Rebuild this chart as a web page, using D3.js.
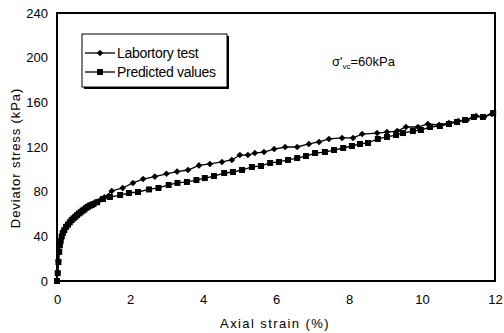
<!DOCTYPE html>
<html>
<head>
<meta charset="utf-8">
<script src="https://cdn.jsdelivr.net/npm/d3@7"></script>
<style>
  body { margin: 0; background: #fff; }
  text { font-family: "Liberation Sans", Arial, sans-serif; fill: #000; }
</style>
</head>
<body>
<div id="chart"></div>
<script>
// Datos
const xTicks = [0, 2, 4, 6, 8, 10, 12]
const yTicks = [0, 40, 80, 120, 160, 200, 240]

const labStrain = [0,0.02,0.04,0.06,0.08,0.1,0.13,0.16,0.2,0.25,0.3,0.35,0.4,0.45,0.5,0.55,0.6,0.65,0.7,0.75,0.8,0.85,0.9,0.95,1.0,1.1,1.2,1.3,
  1.5,1.8,2.08,2.36,2.68,3.0,3.29,3.59,3.89,4.19,4.52,4.79,5.01,5.23,5.42,5.67,5.95,6.25,6.58,6.9,
  7.18,7.45,7.81,8.11,8.36,8.77,9.04,9.32,9.56,9.89,10.16,10.47,10.74,10.99,11.23,11.48,11.7,11.92]
const labStress = [0,8,18,27,33,37,41,44,46,49,51,53,55,56.5,58,59.5,61,62,63.5,64.5,66,67,68,68.5,69.5,71,73,75,
  80.6,83.3,87.8,91.3,93.5,96,98,99.4,103.5,104.8,106.6,108.4,112.8,112.8,114.6,115.5,118.2,120,120,122.7,
  124.5,127.2,128.1,128.1,131.6,132.5,133.4,134.3,137.9,137.9,140.6,139.7,141.5,143.3,144.2,147.8,146.9,149.6]

const predStrain = [0,0.02,0.04,0.06,0.08,0.1,0.13,0.16,0.2,0.25,0.3,0.35,0.4,0.45,0.5,0.55,0.6,0.65,0.7,0.75,0.8,0.85,0.9,0.95,1.0,1.1,
  1.26,1.45,1.73,1.97,2.22,2.52,2.78,3.06,3.3,3.56,3.82,4.05,4.3,4.58,4.82,5.07,5.34,5.59,5.84,6.08,
  6.33,6.58,6.82,7.07,7.34,7.59,7.84,8.08,8.3,8.52,8.79,9.04,9.29,9.48,9.75,9.97,10.22,10.49,10.74,10.96,
  11.18,11.42,11.67,11.95]
const predStress = [0,7,17,26,32,36,40,43,45.5,48.5,50.5,52.5,54.5,56,57.5,59,60.5,61.5,63,64,65.5,66.5,67.5,68,69,70.5,
  73.4,75.2,77,78.8,79.7,82,83.3,86,87.8,88.7,90.4,92.2,94,96.7,97.6,99.4,102.1,103,105.7,106.6,
  108.4,110.1,111.9,114.6,115.5,117.3,119.1,120.9,122.7,123.6,127.2,129,130.7,132.5,134.3,135.2,137.9,138.8,140.6,142.4,
  144.2,146.9,146.9,150.4]

const lab = labStrain.map((d, i) => ({x: d, y: labStress[i]}))
const pred = predStrain.map((d, i) => ({x: d, y: predStress[i]}))

// Constantes:
const width = 504
const height = 333
const margins = {top: 13, bottom: 52, left: 57, right: 9}

const svg = d3.select("#chart").append("svg").attr("width", width).attr("height", height)

const x = d3.scaleLinear().domain([0, 12]).range([margins.left, width - margins.right])
const y = d3.scaleLinear().domain([0, 240]).range([height - margins.bottom, margins.top])

// Ejes (sin marcas, solo etiquetas)
const xAxis = d3.axisBottom(x).tickValues(xTicks).tickSize(0).tickPadding(14)
const yAxis = d3.axisLeft(y).tickValues(yTicks).tickSize(0).tickPadding(9)

const gx = svg.append("g").attr("transform", `translate(0,${height - margins.bottom})`).call(xAxis)
const gy = svg.append("g").attr("transform", `translate(${margins.left},0)`).call(yAxis)
svg.selectAll(".domain").remove()
svg.selectAll(".tick text").style("font-family", "Liberation Sans, Arial, sans-serif").style("font-size", "13px").attr("fill", "#000")

// Lineas
const line = d3.line().x(d => x(d.x)).y(d => y(d.y))

svg.append("path").datum(pred).attr("d", line).attr("fill", "none").attr("stroke", "#000").attr("stroke-width", 1.3)
svg.append("path").datum(lab).attr("d", line).attr("fill", "none").attr("stroke", "#000").attr("stroke-width", 1.3)

const diamond = d3.symbol().type(d3.symbolDiamond2).size(28)
const square = d3.symbol().type(d3.symbolSquare).size(36)

svg.append("g").selectAll("path").data(pred).enter().append("path")
  .attr("d", square).attr("transform", d => `translate(${x(d.x)},${y(d.y)})`).attr("fill", "#000")
svg.append("g").selectAll("path").data(lab).enter().append("path")
  .attr("d", diamond).attr("transform", d => `translate(${x(d.x)},${y(d.y)})`).attr("fill", "#000")

// Marco
svg.append("rect")
  .attr("x", margins.left).attr("y", margins.top)
  .attr("width", width - margins.left - margins.right)
  .attr("height", height - margins.top - margins.bottom)
  .attr("fill", "none").attr("stroke", "#000").attr("stroke-width", 2)

// Titulos de ejes
svg.append("text")
  .attr("x", (margins.left + width - margins.right) / 2 - 1).attr("y", 328)
  .attr("text-anchor", "middle").style("font-size", "13px").style("letter-spacing", "1.4px")
  .text("Axial strain (%)")
svg.append("text")
  .attr("transform", "translate(20,158) rotate(-90)")
  .attr("text-anchor", "middle").style("font-size", "13px").style("letter-spacing", "0.9px")
  .text("Deviator stress (kPa)")

// Leyenda
const legend = svg.append("g")
legend.append("rect").attr("x", 84).attr("y", 36).attr("width", 145).attr("height", 53).attr("fill", "#000")
legend.append("rect").attr("x", 82).attr("y", 34).attr("width", 145).attr("height", 53)
  .attr("fill", "#fff").attr("stroke", "#000").attr("stroke-width", 1)

const items = [
  {name: "Labortory test", sym: diamond, yy: 53},
  {name: "Predicted values", sym: square, yy: 72}
]
items.forEach(it => {
  legend.append("line").attr("x1", 85).attr("x2", 115).attr("y1", it.yy).attr("y2", it.yy)
    .attr("stroke", "#000").attr("stroke-width", 1.3)
  legend.append("path").attr("d", it.sym).attr("transform", `translate(100,${it.yy})`).attr("fill", "#000")
  legend.append("text").attr("x", 117).attr("y", it.yy + 5).style("font-size", "14px").style("letter-spacing", "-0.3px")
    .text(it.name)
})

// Anotacion
const ann = svg.append("text").attr("x", 332).attr("y", 66).style("font-size", "13px")
ann.append("tspan").text("σ'")
ann.append("tspan").attr("dy", 3).style("font-size", "8px").text("vc")
ann.append("tspan").attr("dy", -3).text("=60kPa")
</script>
</body>
</html>
